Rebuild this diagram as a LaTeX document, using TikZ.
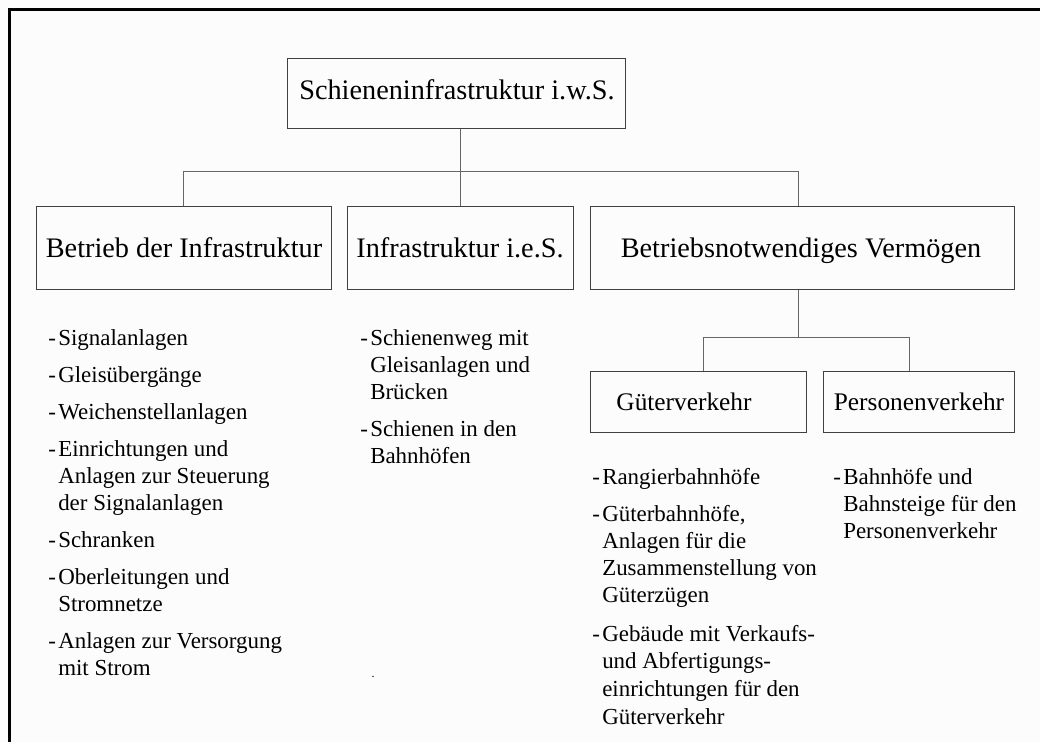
\documentclass[tikz,border=0pt]{standalone}
\usepackage{fontspec}
\setmainfont{Liberation Serif}
\usetikzlibrary{fit}
% dash column used in front of every list entry
\newcommand\entrydash{\makebox[7.5pt][l]{-}}
\begin{document}
\begin{tikzpicture}[x={(0.75pt,0)}, y={(0,-0.75pt)},
  box/.style={draw=black!75, line width=0.75pt, inner sep=0pt},
  link/.style={draw=black!60, line width=0.75pt},
  head/.style={font=\fontsize{21.2}{25}\selectfont, inner sep=0pt, anchor=base},
  subhead/.style={font=\fontsize{19}{23}\selectfont, inner sep=0pt, anchor=base},
  entry/.style={font=\fontsize{17.2}{20.25}\selectfont, inner sep=0pt, anchor=base west},
]
% page background and bounding box
\fill[black!1] (0,0) rectangle (1040,742);
\useasboundingbox (0,0) rectangle (1040,742);
% heavy frame along the top and the left
\draw[line width=2.6pt] (9.5,742) -- (9.5,9.5) -- (1040,9.5);

% boxes
\node[box, fit={(287,59) (625,129)}] (top) {};
\node[box, fit={(36,206) (331,289)}] (bdi) {};
\node[box, fit={(347,206) (573,289)}] (ies) {};
\node[box, fit={(590,206) (1014,289)}] (bnv) {};
\node[box, fit={(590,371) (806,432)}] (gv) {};
\node[box, fit={(823,371) (1014,432)}] (pv) {};

% box titles
\node[head] (ttop) at (457,100) {Schieneninfrastruktur i.w.S.};
\node[head] (tbdi) at (184,257) {Betrieb der Infrastruktur};
\node[head] (ties) at (460,257) {Infrastruktur i.e.S.};
\node[head] (tbnv) at (801,257) {Betriebsnotwendiges Vermögen};
\node[subhead] (tgv) at (684,410) {Güterverkehr};
\node[subhead] (tpv) at (919,410) {Personenverkehr};

% connectors
\coordinate (j1) at (183,172);
\coordinate (j2) at (798,172);
\coordinate (k0) at (798,337);
\coordinate (k1) at (703,337);
\coordinate (k2) at (909,337);
\draw[link] (top.south -| ies.north) -- (ies.north);
\draw[link] (j1 |- bdi.north) -- (j1) -- (j2) -- (j2 |- bnv.north);
\draw[link] (j2 |- bnv.south) -- (k0);
\draw[link] (k1 |- gv.north) -- (k1) -- (k2) -- (k2 |- pv.north);

% lists under "Betrieb der Infrastruktur"
\node[entry] (a1) at (48,345) {\begin{tabular}[t]{@{}l@{}l@{}}\entrydash&Signalanlagen\end{tabular}};
\node[entry] (a2) at (48,382) {\begin{tabular}[t]{@{}l@{}l@{}}\entrydash&Gleisübergänge\end{tabular}};
\node[entry] (a3) at (48,419) {\begin{tabular}[t]{@{}l@{}l@{}}\entrydash&Weichenstellanlagen\end{tabular}};
\node[entry] (a4) at (48,456) {\begin{tabular}[t]{@{}l@{}l@{}}\entrydash&Einrichtungen und\\&Anlagen zur Steuerung\\&der Signalanlagen\end{tabular}};
\node[entry] (a5) at (48,547) {\begin{tabular}[t]{@{}l@{}l@{}}\entrydash&Schranken\end{tabular}};
\node[entry] (a6) at (48,584) {\begin{tabular}[t]{@{}l@{}l@{}}\entrydash&Oberleitungen und\\&Stromnetze\end{tabular}};
\node[entry] (a7) at (48,648) {\begin{tabular}[t]{@{}l@{}l@{}}\entrydash&Anlagen zur Versorgung\\&mit Strom\end{tabular}};
\node[font=\fontsize{9}{10}\selectfont, inner sep=0pt, anchor=base] (dot) at (373,677) {.};

% lists under "Infrastruktur i.e.S."
\node[entry] (b1) at (360,345) {\begin{tabular}[t]{@{}l@{}l@{}}\entrydash&Schienenweg mit\\&Gleisanlagen und\\&Brücken\end{tabular}};
\node[entry] (b2) at (360,436) {\begin{tabular}[t]{@{}l@{}l@{}}\entrydash&Schienen in den\\&Bahnhöfen\end{tabular}};

% lists under "Güterverkehr"
\node[entry] (c1) at (592,484) {\begin{tabular}[t]{@{}l@{}l@{}}\entrydash&Rangierbahnhöfe\end{tabular}};
\node[entry] (c2) at (592,521) {\begin{tabular}[t]{@{}l@{}l@{}}\entrydash&Güterbahnhöfe,\\&Anlagen für die\\&Zusammenstellung von\\&Güterzügen\end{tabular}};
\node[entry, font=\fontsize{17.2}{20.8}\selectfont] (c3) at (592,641) {\begin{tabular}[t]{@{}l@{}l@{}}\entrydash&Gebäude mit Verkaufs-\\&und Abfertigungs-\\&einrichtungen für den\\&Güterverkehr\end{tabular}};

% list under "Personenverkehr"
\node[entry] (d1) at (833,484) {\begin{tabular}[t]{@{}l@{}l@{}}\entrydash&Bahnhöfe und\\&Bahnsteige für den\\&Personenverkehr\end{tabular}};
\end{tikzpicture}
\end{document}
